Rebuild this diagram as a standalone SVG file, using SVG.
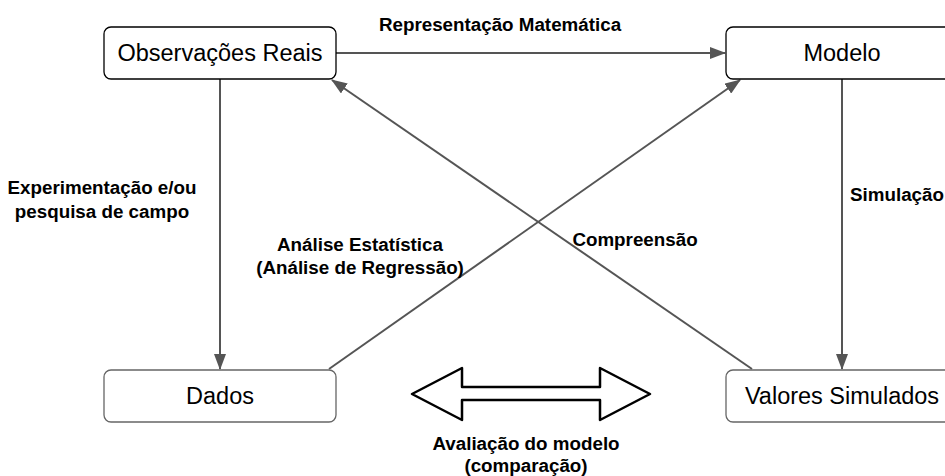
<svg xmlns="http://www.w3.org/2000/svg" width="945" height="476" viewBox="0 0 945 476">
<defs>
<style>
.box{fill:#fff;stroke-width:1.3}
.dark{stroke:#000}
.gray{stroke:#666}
.bt{font-family:"Liberation Sans",Arial,sans-serif;font-size:23.5px;fill:#000;text-anchor:middle}
.lb{font-family:"Liberation Sans",Arial,sans-serif;font-size:18.8px;font-weight:bold;fill:#000}
.c{text-anchor:middle}
.edge{stroke:#555;stroke-width:2;fill:none}
</style>
<marker id="ah" viewBox="0 0 16 12" refX="15" refY="6" markerWidth="16" markerHeight="12" markerUnits="userSpaceOnUse" orient="auto">
<path d="M0,0 L16,6 L0,12 Z" fill="#555"/>
</marker>
</defs>
<rect width="945" height="476" fill="#fff"/>
<g id="connectors">
<line class="edge" x1="336" y1="53" x2="725" y2="53" marker-end="url(#ah)"/>
<line class="edge" x1="220" y1="79" x2="220" y2="369" marker-end="url(#ah)"/>
<line class="edge" x1="842" y1="79" x2="842" y2="369" marker-end="url(#ah)"/>
<line class="edge" x1="329" y1="369" x2="740" y2="80" marker-end="url(#ah)"/>
<line class="edge" x1="752" y1="369" x2="332" y2="80" marker-end="url(#ah)"/>
</g>
<g id="node-observacoes">
<rect class="box dark" x="104" y="27" width="232" height="52" rx="7"/>
<text class="bt" x="220" y="61">Observações Reais</text>
</g>
<g id="node-modelo">
<rect class="box dark" x="726" y="27" width="232" height="52" rx="7"/>
<text class="bt" x="842" y="61">Modelo</text>
</g>
<g id="node-dados">
<rect class="box gray" x="104" y="370" width="232" height="52" rx="7"/>
<text class="bt" x="220" y="404">Dados</text>
</g>
<g id="node-valores">
<rect class="box gray" x="726" y="370" width="232" height="52" rx="7"/>
<text class="bt" x="842" y="404">Valores Simulados</text>
</g>
<g id="labels">
<text class="lb c" x="500" y="31">Representação Matemática</text>
<text class="lb c" x="102" y="194">Experimentação e/ou</text>
<text class="lb c" x="102" y="218">pesquisa de campo</text>
<text class="lb c" x="360" y="251">Análise Estatística</text>
<text class="lb c" x="360" y="274">(Análise de Regressão)</text>
<text class="lb c" x="635" y="246">Compreensão</text>
<text class="lb" x="850" y="201">Simulação</text>
<text class="lb c" x="526" y="450">Avaliação do modelo</text>
<text class="lb c" x="526" y="472">(comparação)</text>
</g>
<g id="node-avaliacao">
<path d="M412,394 L462,368 L462,387 L600,387 L600,368 L650,394 L600,420 L600,400 L462,400 L462,420 Z" fill="#fff" stroke="#000" stroke-width="2.5" stroke-linejoin="round"/>
</g>
</svg>
